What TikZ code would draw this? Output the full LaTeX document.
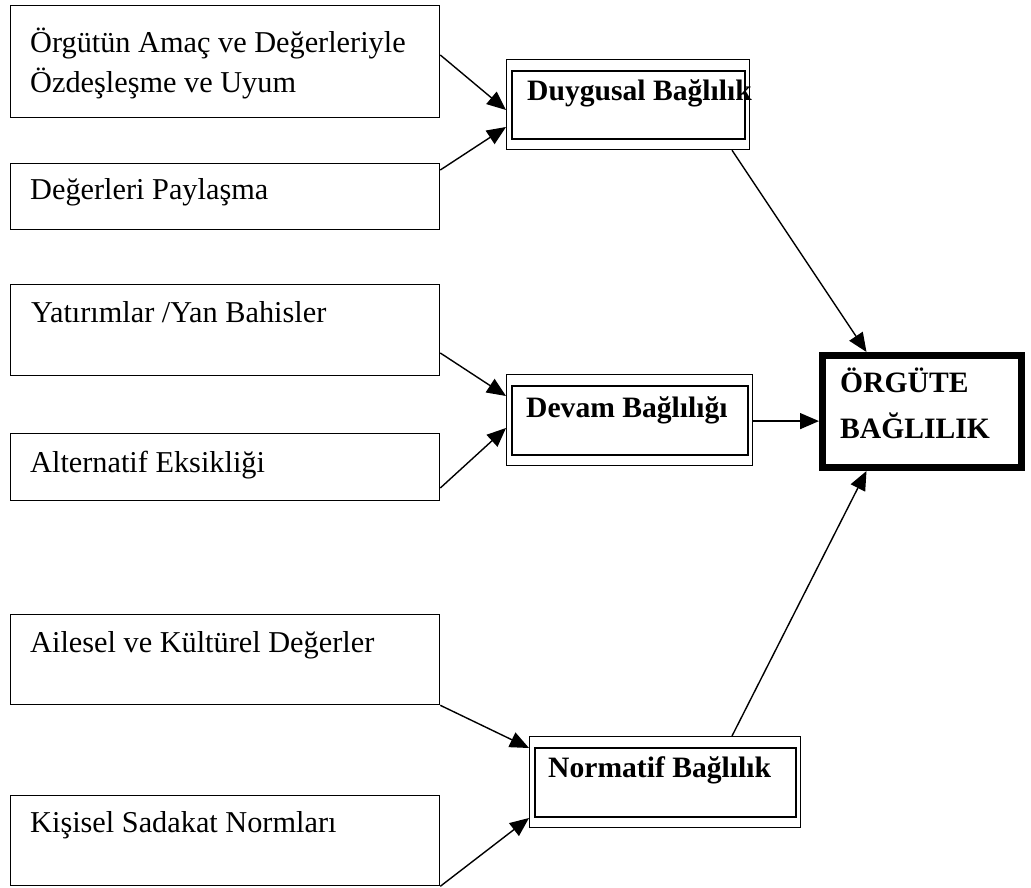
\documentclass[tikz,border=0pt]{standalone}
\usepackage{fontspec}
\setmainfont{Liberation Serif}
\usetikzlibrary{arrows.meta,calc}
\begin{document}
\begin{tikzpicture}[x=1pt,y=-1pt,
  srcbox/.style={draw,line width=1.3pt,inner sep=0,anchor=north west},
  outerbox/.style={draw,line width=1.2pt,inner sep=0,anchor=north west},
  innerbox/.style={draw,line width=2.2pt,inner sep=0,anchor=north west},
  bigbox/.style={draw,line width=7pt,inner sep=0,anchor=north west},
  lbl/.style={anchor=base west,inner sep=0,font=\fontsize{30.3}{36}\selectfont},
  blbl/.style={anchor=base west,inner sep=0,font=\fontsize{29.6}{35}\selectfont\bfseries},
  arr/.style={line width=1.4pt,-{Triangle[length=19pt,width=16pt]}}]
\useasboundingbox (0,0) rectangle (1031,888);

% source boxes
\node[srcbox,minimum width=429pt,minimum height=112pt] (s1) at (10,5) {};
\node[srcbox,minimum width=429pt,minimum height=66pt] (s2) at (10,163) {};
\node[srcbox,minimum width=429pt,minimum height=91pt] (s3) at (10,284) {};
\node[srcbox,minimum width=429pt,minimum height=67pt] (s4) at (10,433) {};
\node[srcbox,minimum width=429pt,minimum height=90pt] (s5) at (10,614) {};
\node[srcbox,minimum width=429pt,minimum height=90pt] (s6) at (10,795) {};

\node[lbl] (t1a) at (30,53) {Örgütün Amaç ve Değerleriyle};
\node[lbl] (t1b) at (30,93) {Özdeşleşme ve Uyum};
\node[lbl] (t2) at (30,200) {Değerleri Paylaşma};
\node[lbl] (t3) at (31,322) {Yatırımlar /Yan Bahisler};
\node[lbl] (t4) at (30,472) {Alternatif Eksikliği};
\node[lbl] (t5) at (30,652) {Ailesel ve Kültürel Değerler};
\node[lbl] (t6) at (30,832) {Kişisel Sadakat Normları};

% double boxes
\node[outerbox,minimum width=243pt,minimum height=90pt] (d1) at (506,59) {};
\node[innerbox,minimum width=233pt,minimum height=68pt] (d1i) at (511,70) {};
\node[blbl] (u1) at (527,101) {Duygusal Bağlılık};

\node[outerbox,minimum width=246pt,minimum height=91pt] (d2) at (506,374) {};
\node[innerbox,minimum width=236pt,minimum height=69pt] (d2i) at (511,385) {};
\node[blbl] (u2) at (526,417) {Devam Bağlılığı};

\node[outerbox,minimum width=271pt,minimum height=91pt] (d3) at (529,736) {};
\node[innerbox,minimum width=261pt,minimum height=69pt] (d3i) at (534,747) {};
\node[blbl] (u3) at (548,777) {Normatif Bağlılık};

% big box
\node[bigbox,minimum width=199pt,minimum height=112pt] (g) at (819,352) {};
\node[blbl] (ga) at (840,392) {ÖRGÜTE};
\node[blbl] (gb) at (840,438) {BAĞLILIK};

% arrows
\draw[arr] ($(s1.north east)+(0,50)$) -- ($(d1.north west)+(0,51)$);
\draw[arr] ($(s2.north east)+(0,7)$) -- ($(d1.north west)+(0,68)$);
\draw[arr] ($(s3.north east)+(0,69)$) -- ($(d2.north west)+(0,22)$);
\draw[arr] ($(s4.north east)+(0,55)$) -- ($(d2.north west)+(0,54)$);
\draw[arr] (s5.south east) -- ($(d3.north west)+(0,12)$);
\draw[arr] (s6.south east) -- ($(d3.north west)+(0,82)$);
\draw[arr] ($(d1.south west)+(226,0)$) -- ($(g.north west)+(47.5,0)$);
\draw[arr] ($(d2.east)+(0,1)$) -- ($(d2.east -| g.west)+(0,1)$);
\draw[arr] ($(d3.north west)+(203,0)$) -- ($(g.south west)+(47.5,0)$);
\end{tikzpicture}
\end{document}
